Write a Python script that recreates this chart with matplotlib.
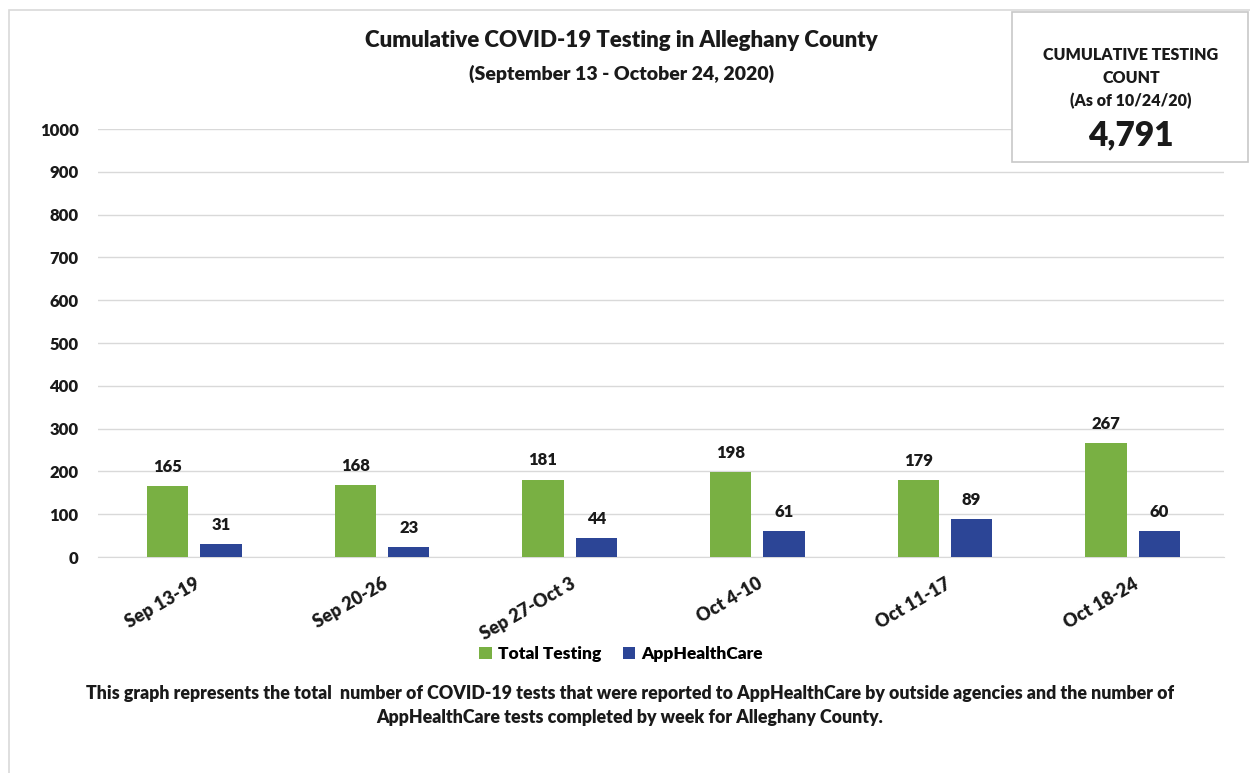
import matplotlib
matplotlib.use("Agg")
import matplotlib.pyplot as plt
import numpy as np
from matplotlib.patches import Rectangle

plt.rcParams['font.family'] = ['Lato', 'DejaVu Sans']

categories = ["Sep 13-19", "Sep 20-26", "Sep 27-Oct 3", "Oct 4-10", "Oct 11-17", "Oct 18-24"]
total_testing = [165, 168, 181, 198, 179, 267]
apphealthcare = [31, 23, 44, 61, 89, 60]
y_ticks = [0, 100, 200, 300, 400, 500, 600, 700, 800, 900, 1000]

GREEN = "#79b043"
BLUE = "#2c4596"
TXT = "#1a1a1a"
WT = "heavy"

fig = plt.figure(figsize=(12.5, 7.73), dpi=100)
ax = fig.add_axes([98 / 1250, 0.2794, 1126 / 1250, 0.5537])

x = np.arange(len(categories))
off = 0.1425
w = 0.22
b1 = ax.bar(x - off, total_testing, w, color=GREEN, label="Total Testing", zorder=3)
b2 = ax.bar(x + off, apphealthcare, w, color=BLUE, label="AppHealthCare", zorder=3)

for rect, v in zip(b1, total_testing):
    ax.text(rect.get_x() + rect.get_width() / 2, v + 26, str(v), ha="center", va="bottom",
            fontsize=12, fontweight=WT, color=TXT)
for rect, v in zip(b2, apphealthcare):
    ax.text(rect.get_x() + rect.get_width() / 2, v + 26, str(v), ha="center", va="bottom",
            fontsize=12, fontweight=WT, color=TXT)

ax.set_xlim(-0.513, 5.487)
ax.set_ylim(0, 1000)
ax.set_yticks(y_ticks)
ax.set_yticklabels([str(t) for t in y_ticks], fontsize=12, fontweight=WT, color=TXT)
ax.set_xticks(x)
ax.set_xticklabels(categories, rotation=30, ha="right", rotation_mode="anchor",
                   fontsize=13, fontweight=WT, color=TXT)
ax.tick_params(axis="both", length=0)
ax.tick_params(axis="y", pad=14)
ax.tick_params(axis="x", pad=13)
ax.grid(axis="y", color="#d9d9d9", linewidth=1, zorder=0)
for s in ["top", "right", "left"]:
    ax.spines[s].set_visible(False)
ax.spines["bottom"].set_color("#d9d9d9")

fig.text(0.497, 0.948, "Cumulative COVID-19 Testing in Alleghany County", ha="center", va="center",
         fontsize=16, fontweight=WT, color=TXT)
fig.text(0.497, 0.905, "(September 13 - October 24, 2020)", ha="center", va="center",
         fontsize=14, fontweight=WT, color=TXT)

leg = fig.legend(handles=[b1, b2], loc="center", bbox_to_anchor=(0.497, 0.154), ncol=2, frameon=False,
                 prop={"weight": WT, "size": 12.5}, handlelength=0.7, handleheight=0.7,
                 columnspacing=1.2, handletextpad=0.4)

fig.text(0.504, 0.103, "This graph represents the total  number of COVID-19 tests that were reported to AppHealthCare by outside agencies and the number of",
         ha="center", va="center", fontsize=12.8, fontweight=WT, color=TXT)
fig.text(0.504, 0.072, "AppHealthCare tests completed by week for Alleghany County.",
         ha="center", va="center", fontsize=12.8, fontweight=WT, color=TXT)

# outer frame
fig.add_artist(Rectangle((0.007, -0.01), 1.2, 0.997, transform=fig.transFigure, fill=False,
                         edgecolor="#d9d9d9", linewidth=1.2))
# info box
fig.add_artist(Rectangle((1012 / 1250, 1 - 162 / 773), 236 / 1250, 150 / 773, transform=fig.transFigure,
                         facecolor="white", edgecolor="#c8c8c8", linewidth=1.2, zorder=5))
for txt, yy, fs in [("CUMULATIVE TESTING", 55, 11.5), ("COUNT", 78, 11.5),
                    ("(As of 10/24/20)", 101, 11.5), ("4,791", 135, 24)]:
    fig.text(1131 / 1250, 1 - yy / 773, txt, ha="center", va="center",
             fontsize=fs, fontweight=WT, color=TXT, zorder=6)

fig.savefig("out.png", dpi=100, facecolor="white")
